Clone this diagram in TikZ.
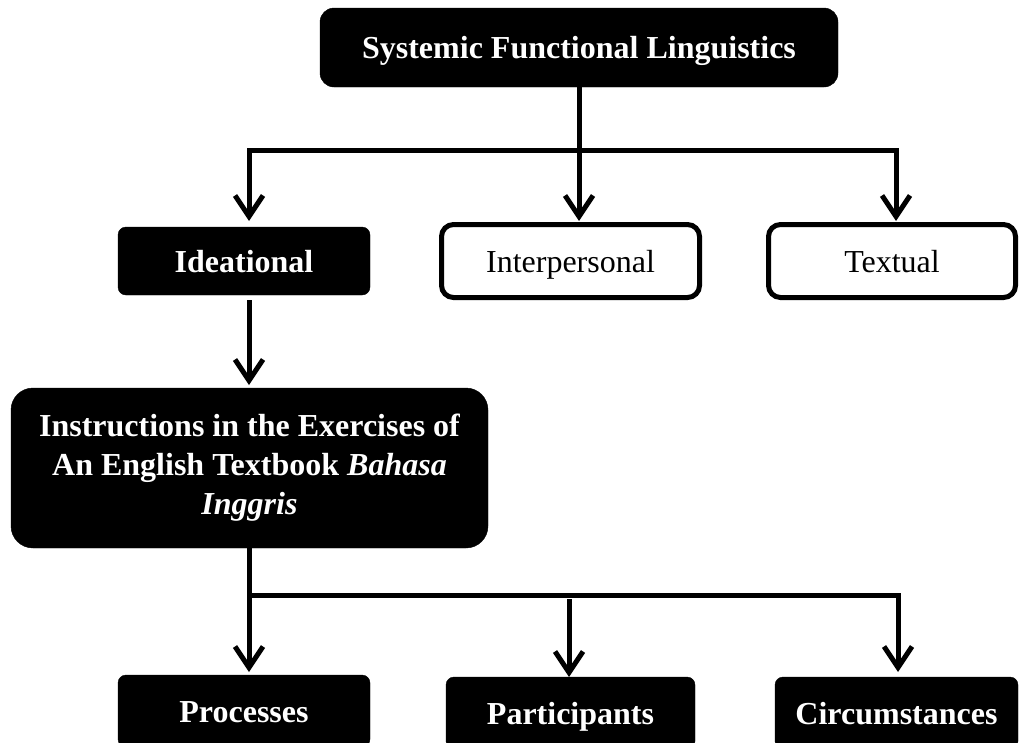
\documentclass[tikz,border=0pt]{standalone}
\usepackage{fontspec}
\setmainfont{Liberation Serif}
\usetikzlibrary{arrows.meta}
\begin{document}
\begin{tikzpicture}[x=1pt,y=-1pt,
 conn/.style={line width=5pt},
 arr/.style={conn,-{Straight Barb[length=21pt,width=28pt]}},
 blk/.style={fill=black,draw=black,text=white,rounded corners=8pt,font=\fontsize{32}{39}\selectfont\bfseries,inner sep=0pt,align=center},
 one/.style={text height=22pt,text depth=0pt},
 wht/.style={fill=white,draw=black,line width=5pt,rounded corners=12pt,font=\fontsize{32}{39}\selectfont,inner sep=0pt,text height=22pt,text depth=0pt}]
\useasboundingbox (0,0) rectangle (1019,742);
\clip (0,0) rectangle (1019,742);
% nodes
\node[blk,one,rounded corners=14pt,minimum width=518pt,minimum height=79pt] (sfl) at (579,47.5) {Systemic Functional Linguistics};
\node[blk,one,minimum width=252pt,minimum height=68pt] (idea) at (244,261) {Ideational};
\node[wht,minimum width=258pt,minimum height=73pt] (inter) at (570.5,261) {Interpersonal};
\node[wht,minimum width=247pt,minimum height=73pt] (text) at (892,261) {Textual};
\node[blk,rounded corners=22pt,minimum width=477pt,minimum height=160pt] (instr) at (249.5,468)
 {Instructions in the Exercises of\\An English Textbook \textit{Bahasa}\\\textit{Inggris}};
\node[blk,one,minimum width=252pt,minimum height=72pt] (proc) at (244,711) {Processes};
\node[blk,one,minimum width=249pt,minimum height=72pt] (part) at (570.5,713) {Participants};
\node[blk,one,minimum width=243pt,minimum height=72pt] (circ) at (896.5,713) {Circumstances};
% junctions and tips
\coordinate (j1) at (579,150);
\coordinate (t1) at (249,221);
\coordinate (t2) at (579,221);
\coordinate (t3) at (896,221);
\coordinate (s4) at (249,300);
\coordinate (t4) at (249,385);
\coordinate (j2) at (249,595);
\coordinate (t5) at (249,672);
\coordinate (s6) at (569,599);
\coordinate (t6) at (569,677);
\coordinate (t7) at (898,672);
% connectors
\draw[conn] (sfl.south -| j1) -- (j1);
\draw[arr] (j1) -| (t1);
\draw[arr] (j1) -- (t2);
\draw[arr] (j1) -| (t3);
\draw[arr] (s4) -- (t4);
\draw[conn] ([yshift=0.1pt]instr.south -| j2) -- (j2);
\draw[arr] (j2) -- (t5);
\draw[arr] (j2) -| (t7);
\draw[arr] (s6) -- (t6);
\end{tikzpicture}
\end{document}
